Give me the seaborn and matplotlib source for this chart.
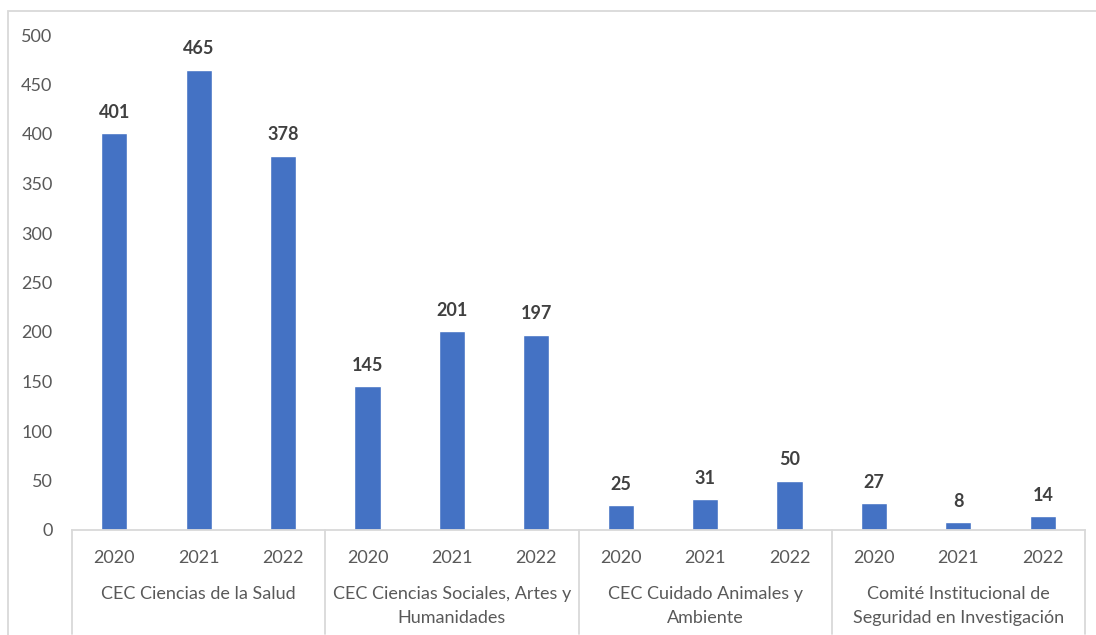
import pandas as pd
import seaborn as sns
import matplotlib.pyplot as plt
from matplotlib.patches import Rectangle
from matplotlib.lines import Line2D

groups = ["CEC Ciencias de la Salud",
          "CEC Ciencias Sociales, Artes y\nHumanidades",
          "CEC Cuidado Animales y\nAmbiente",
          "Comité Institucional de\nSeguridad en Investigación"]
years = ["2020", "2021", "2022"]
salud = [401, 465, 378]
sociales = [145, 201, 197]
animales = [25, 31, 50]
comite = [27, 8, 14]

rows = []
for g, vals in zip(groups, [salud, sociales, animales, comite]):
    for y, v in zip(years, vals):
        rows.append({"grupo": g, "anio": y, "key": g + "|" + y, "valor": v})
df = pd.DataFrame(rows)

sns.set_style("white")
plt.rcParams['font.family'] = ['Lato', 'DejaVu Sans']

fig = plt.figure(figsize=(10.96, 6.35), dpi=100)
ax = fig.add_axes([72/1096, 1-530/635, (1085-72)/1096, 495/635])

sns.barplot(data=df, x="key", y="valor", order=list(df["key"]),
            color="#4472C4", width=0.31, saturation=1, ax=ax)
ax.bar_label(ax.containers[0], padding=9, fontsize=13, fontweight="bold",
             color="#404040")

ax.set_ylim(0, 500)
ax.set_yticks(range(0, 501, 50))
ax.tick_params(axis="y", length=0, labelsize=13, labelcolor="#595959", pad=14)
ax.set_xticks([])
ax.set_xlim(-0.5, len(df) - 0.5)
ax.set_xlabel("")
ax.set_ylabel("")
for s in ["top", "right", "left"]:
    ax.spines[s].set_visible(False)
ax.spines["bottom"].set_color("#D9D9D9")
ax.spines["bottom"].set_linewidth(1.3)

trans = ax.get_xaxis_transform()
for i, y in enumerate(df["anio"]):
    ax.text(i, -0.056, y, transform=trans, ha="center", va="center",
            fontsize=13, color="#595959")
for k, g in enumerate(groups):
    ax.text(3*k + 1, -0.114, g, transform=trans, ha="center", va="top",
            fontsize=13, color="#595959", linespacing=1.6)
for k in range(len(groups) + 1):
    ax.add_line(Line2D([3*k - 0.5, 3*k - 0.5], [0, -0.21], transform=trans,
                       color="#D9D9D9", lw=1.3, clip_on=False))

fig.patches.append(Rectangle((8/1096, -0.1), 1.2, 1 - 11/635 + 0.1,
                             transform=fig.transFigure, fill=False,
                             edgecolor="#D9D9D9", lw=1.3))

fig.savefig("out.png", dpi=100, facecolor="white")
